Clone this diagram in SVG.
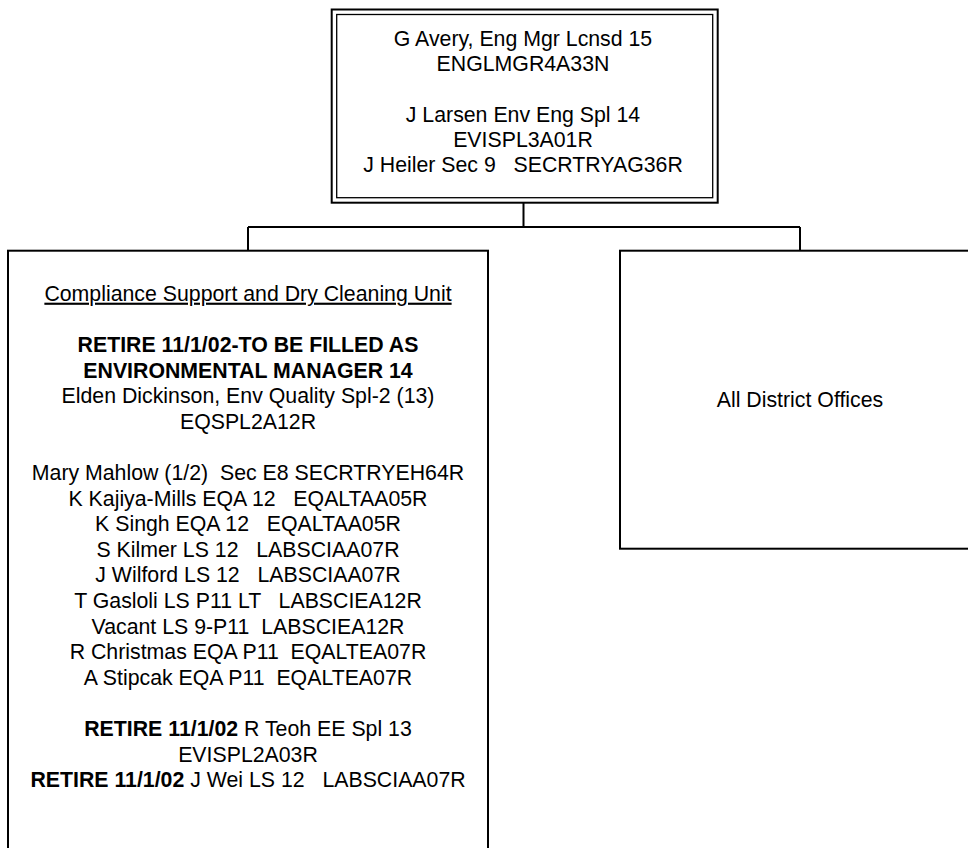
<svg xmlns="http://www.w3.org/2000/svg" width="968" height="848" viewBox="0 0 968 848">
<style>
  .box { fill: #ffffff; stroke: #000000; stroke-width: 2; }
  .inner { fill: none; stroke: #000000; stroke-width: 1.3; }
  .conn { fill: none; stroke: #000000; stroke-width: 2; }
  text { font-family: "Liberation Sans", Arial, sans-serif; font-size: 21.3px; fill: #000000; text-anchor: middle; white-space: pre; }
  .b { font-weight: bold; }
</style>
<rect width="968" height="848" fill="#ffffff"/>
<g id="connectors">
  <path class="conn" d="M523.5,203 V227 M248,227 H800 M248,227 V251 M800,227 V251"/>
</g>
<g id="node-top">
  <rect class="box" x="331.7" y="9.5" width="386" height="193.2"/>
  <rect class="inner" x="336.7" y="14.5" width="376" height="183.2"/>
  <text x="523" y="45.7">G Avery, Eng Mgr Lcnsd 15</text>
  <text x="523" y="71">ENGLMGR4A33N</text>
  <text x="523" y="121.6">J Larsen Env Eng Spl 14</text>
  <text x="523" y="146.9">EVISPL3A01R</text>
  <text x="523" y="172.2" xml:space="preserve">J Heiler Sec 9   SECRTRYAG36R</text>
</g>
<g id="node-compliance">
  <rect class="box" x="8" y="250.7" width="480" height="620"/>
  <text x="248" y="300.7" text-decoration="underline">Compliance Support and Dry Cleaning Unit</text>
  <text class="b" x="248" y="351.9">RETIRE 11/1/02-TO BE FILLED AS</text>
  <text class="b" x="248" y="377.5">ENVIRONMENTAL MANAGER 14</text>
  <text x="248" y="403.1">Elden Dickinson, Env Quality Spl-2 (13)</text>
  <text x="248" y="428.7">EQSPL2A12R</text>
  <text x="248" y="479.9" xml:space="preserve">Mary Mahlow (1/2)  Sec E8 SECRTRYEH64R</text>
  <text x="248" y="505.5" xml:space="preserve">K Kajiya-Mills EQA 12   EQALTAA05R</text>
  <text x="248" y="531.1" xml:space="preserve">K Singh EQA 12   EQALTAA05R</text>
  <text x="248" y="556.7" xml:space="preserve">S Kilmer LS 12   LABSCIAA07R</text>
  <text x="248" y="582.3" xml:space="preserve">J Wilford LS 12   LABSCIAA07R</text>
  <text x="248" y="607.9" xml:space="preserve">T Gasloli LS P11 LT   LABSCIEA12R</text>
  <text x="248" y="633.5" xml:space="preserve">Vacant LS 9-P11  LABSCIEA12R</text>
  <text x="248" y="659.1" xml:space="preserve">R Christmas EQA P11  EQALTEA07R</text>
  <text x="248" y="684.7" xml:space="preserve">A Stipcak EQA P11  EQALTEA07R</text>
  <text x="248" y="735.9" xml:space="preserve"><tspan class="b">RETIRE 11/1/02</tspan> R Teoh EE Spl 13</text>
  <text x="248" y="761.5">EVISPL2A03R</text>
  <text x="248" y="787.1" xml:space="preserve"><tspan class="b">RETIRE 11/1/02</tspan> J Wei LS 12   LABSCIAA07R</text>
</g>
<g id="node-district">
  <rect class="box" x="620" y="250.7" width="380" height="298"/>
  <text x="800" y="406.7">All District Offices</text>
</g>
</svg>
